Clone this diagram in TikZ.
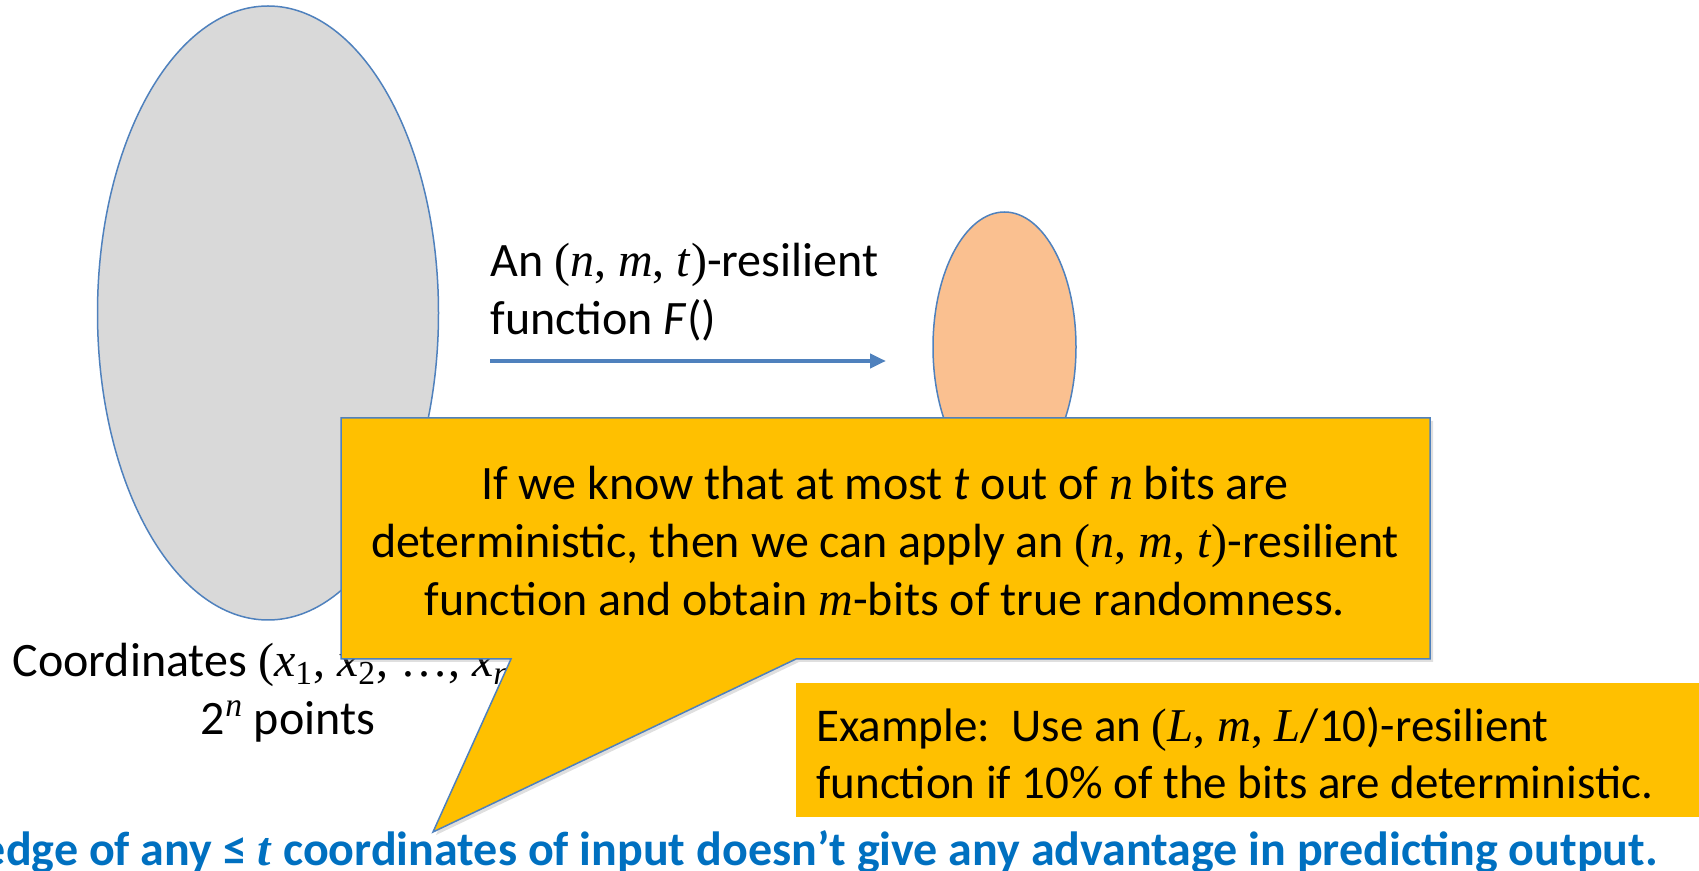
\documentclass[tikz,border=0pt]{standalone}
\usepackage{fontspec}
\setmainfont{Carlito}
\newfontfamily\tms{Liberation Serif}
\usetikzlibrary{arrows.meta, shapes.geometric, shadows}
\definecolor{setblue}{HTML}{4F81BD}
\definecolor{calloutgold}{HTML}{FFC000}
\definecolor{domaingray}{HTML}{D9D9D9}
\definecolor{rangepeach}{HTML}{FAC090}
\definecolor{claimblue}{HTML}{0070C0}
\newcommand{\tup}[1]{{\tms #1}}

\begin{document}
\begin{tikzpicture}[
  x=0.5pt, y=-0.5pt,
  every node/.style={font=\fontsize{24}{29}\selectfont, inner sep=0pt},
  inputset/.style={ellipse, draw=setblue, line width=0.75pt, fill=domaingray,
                 minimum width=170.5pt, minimum height=307pt},
  outputset/.style={ellipse, draw=setblue, line width=0.75pt, fill=rangepeach,
                minimum width=71.5pt, minimum height=135pt},
  claimshape/.style={draw=setblue, line width=0.75pt, fill=calloutgold,
                     drop shadow={shadow xshift=1.5pt, shadow yshift=-1.5pt, opacity=0.25}},
  examplebox/.style={fill=calloutgold, minimum width=451.5pt, minimum height=67pt},
  exampletext/.style={anchor=west, align=left, font=\fontsize{23.5}{28.5}\selectfont},
  note/.style={font=\fontsize{24}{29}\selectfont\bfseries, text=claimblue},
  arr/.style={-{Triangle[length=8pt, width=7pt]}, line width=2pt, setblue}
]
\useasboundingbox (0,0) rectangle (1699,871);

% Input and output sets
\node[inputset] (input) at (268,313) {};
\node[outputset] (output) at (1004.5,347) {};

% The resilient function
\coordinate (fstart) at (490,361);
\coordinate (fend) at (886,361);
\draw[arr] (fstart) -- (fend);
\node[anchor=west, align=left] (fname) at (490,292)
  {An \tup{(\textit{n}, \textit{m}, \textit{t})}-resilient\\function \textit{F}()};

% Label of the input set
\node[align=center] (coords) at (288,693)
  {Coordinates \tup{(\textit{x}\textsubscript{1}, \textit{x}\textsubscript{2}, \ldots, \textit{x}\textsubscript{\textit{n}})}\hspace*{18pt}\\
   2\textsuperscript{\tup{\textit{n}}} points};

% Callout
\path[claimshape] (341,418) -- (1430,418) -- (1430,659) -- (796,659)
  -- (433,832) -- (511,659) -- (341,659) -- cycle;
\node[align=center] (claim) at (885,541)
  {If we know that at most \textit{t} out of \tup{\textit{n}} bits are\\
   deterministic, then we can apply an \tup{(\textit{n}, \textit{m}, \textit{t})}-resilient\\
   function and obtain \tup{\textit{m}}-bits of true randomness.};

% Example
\node[examplebox] (exbox) at (1247.5,750) {};
\node[exampletext] (example) at (816,753)
  {Example:\ \ Use an \tup{(\textit{L}, \textit{m}, \textit{L}}/10)-resilient\\
   function if 10\% of the bits are deterministic.};

% Bottom line
\node[note, anchor=east] (knowledge) at (1658,852)
  {edge of any ≤ \tup{\textit{t}} coordinates of input doesn’t give any advantage in predicting output.};

\end{tikzpicture}
\end{document}
